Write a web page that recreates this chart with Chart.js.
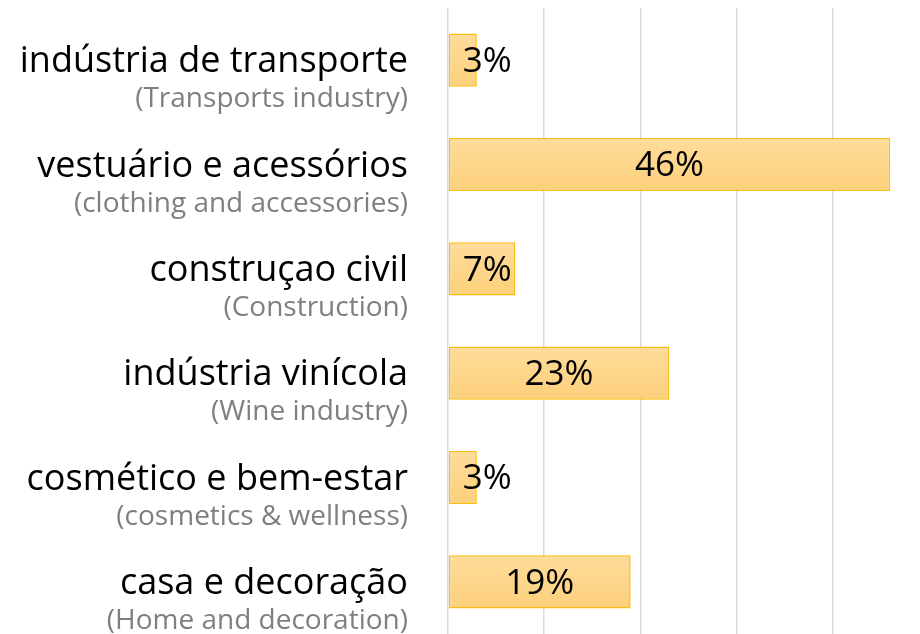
<!DOCTYPE html>
<html>
<head>
<meta charset="utf-8">
<script src="https://cdn.jsdelivr.net/npm/chart.js@4"></script>
<style>
  html, body { margin: 0; padding: 0; background: #fff; }
  #wrap { width: 920px; height: 634px; position: relative; }
</style>
</head>
<body>
<div id="wrap"><canvas id="chart"></canvas></div>
<script>
// categories (Portuguese + English subtitle) and shares in %
const categoriesPt = ['indústria de transporte', 'vestuário e acessórios', 'construçao civil', 'indústria vinícola', 'cosmético e bem-estar', 'casa e decoração'];
const categoriesEn = ['(Transports industry)', '(clothing and accessories)', '(Construction)', '(Wine industry)', '(cosmetics & wellness)', '(Home and decoration)'];
const shares = [3, 46, 7, 23, 3, 19];

const FONT = '"Open Sans", Lato, sans-serif';

function barFill(ctx) {
  const chart = ctx.chart;
  const y = chart.scales && chart.scales.y;
  if (!chart.chartArea || !y) {return '#FDD58A';}
  const c = y.getPixelForValue(ctx.dataIndex);
  const h = 27;
  const g = chart.ctx.createLinearGradient(0, c - h, 0, c + h);
  g.addColorStop(0, '#FEDC9C');
  g.addColorStop(1, '#FCD07A');
  return g;
}

// left-side two-line category labels
const sideLabels = {
  id: 'sideLabels',
  afterDraw(chart) {
    const ctx = chart.ctx;
    const y = chart.scales.y;
    ctx.save();
    ctx.textAlign = 'right';
    ctx.textBaseline = 'alphabetic';
    categoriesPt.forEach((pt, i) => {
      const c = y.getPixelForValue(i);
      ctx.fillStyle = '#000';
      ctx.font = '36px ' + FONT;
      ctx.fillText(pt, 408, c + 12);
      ctx.fillStyle = '#7f7f7f';
      ctx.font = '28px ' + FONT;
      ctx.fillText(categoriesEn[i], 408, c + 47);
    });
    ctx.restore();
  }
};

// value labels inside the bars
const valueLabels = {
  id: 'valueLabels',
  afterDatasetsDraw(chart) {
    const ctx = chart.ctx;
    const meta = chart.getDatasetMeta(0);
    ctx.save();
    ctx.font = '35px ' + FONT;
    ctx.fillStyle = '#000';
    ctx.textAlign = 'center';
    ctx.textBaseline = 'middle';
    meta.data.forEach((bar, i) => {
      const txt = shares[i] + '%';
      const w = ctx.measureText(txt).width;
      const cx = Math.max((bar.base + bar.x) / 2, bar.base + 14 + w / 2);
      ctx.fillText(txt, cx, bar.y + 2);
    });
    ctx.restore();
  }
};

new Chart(document.getElementById('chart').getContext('2d'), {
  type: 'bar',
  data: {
    labels: categoriesPt,
    datasets: [{
      data: shares,
      backgroundColor: barFill,
      borderColor: '#F8BD10',
      borderWidth: 1.5,
      borderSkipped: false,
      categoryPercentage: 0.51,
      barPercentage: 1
    }]
  },
  options: {
    indexAxis: 'y',
    responsive: true,
    maintainAspectRatio: false,
    animation: false,
    layout: { padding: { left: 448, top: 8, right: 0, bottom: 0 } },
    plugins: { legend: { display: false }, tooltip: { enabled: false } },
    scales: {
      x: {
        min: 0,
        max: 49.1,
        ticks: { display: false, stepSize: 10 },
        grid: {
          drawTicks: false,
          lineWidth: 1.5,
          color: (c) => (c.tick && c.tick.value % 10 === 0) ? '#D9D9D9' : 'rgba(0,0,0,0)'
        },
        border: { display: false }
      },
      y: { display: false }
    }
  },
  plugins: [sideLabels, valueLabels]
});
</script>
</body>
</html>
